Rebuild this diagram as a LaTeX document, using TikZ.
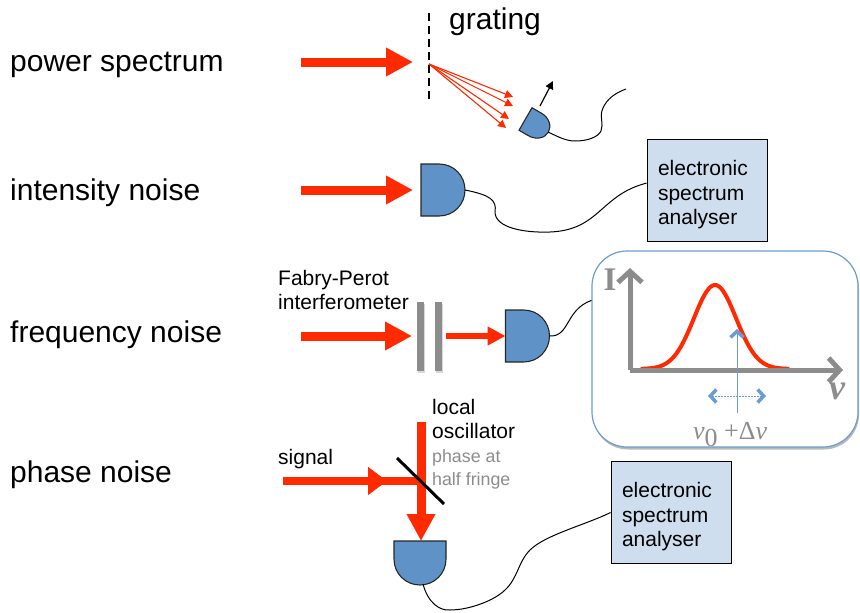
\documentclass[tikz,border=0pt]{standalone}
\usepackage{fontspec}
\setmainfont{Liberation Sans}
\newfontfamily\serifgreek{Liberation Serif}
\usetikzlibrary{arrows.meta,shadows}

\definecolor{beamred}{HTML}{FF2A00}
\definecolor{detblue}{HTML}{5F93C8}
\definecolor{boxblue}{HTML}{CFDEEE}
\definecolor{insetblue}{HTML}{6C9DD2}
\definecolor{axisgray}{HTML}{8C8C8C}

\tikzset{
  rowlabel/.style={anchor=base west, inner sep=0pt, font=\fontsize{30}{34}\selectfont},
  smalllabel/.style={anchor=north west, inner sep=0pt, align=left, font=\fontsize{21}{24.5}\selectfont},
  graylabel/.style={anchor=north west, inner sep=0pt, align=left, text=axisgray, font=\fontsize{17.8}{23}\selectfont},
  beam/.style={draw=beamred, line width=9pt},
  bighead/.style={-{Triangle[length=27pt,width=27pt]}},
  smallray/.style={draw=beamred, line width=1.1pt, -{Triangle[length=8pt,width=8pt]}},
  plate/.style={fill=axisgray, inner sep=0pt, minimum width=7pt, minimum height=69pt,
    drop shadow={shadow xshift=0.5pt, shadow yshift=-2pt, fill=gray!60}},
  specbox/.style={draw=black, line width=0.8pt, fill=boxblue, inner xsep=11pt, inner ysep=0pt, text width=98pt,
    minimum height=102pt, align=left, font=\fontsize{21}{24.5}\selectfont,
    execute at begin node=\rule{0pt}{24pt}},
  wire/.style={draw=black, line width=1pt},
  axisline/.style={draw=axisgray, line width=5pt, -{Straight Barb[length=11pt,width=24pt,line width=5pt]}},
  pics/detector/.style={code={
    \draw[fill=detblue, draw=black!85, line width=1.1pt] (0,-26) -- (18,-26)
      .. controls (33,-26) and (44,-14) .. (44,0)
      .. controls (44,14) and (33,26) .. (18,26) -- (0,26) -- cycle;
    \coordinate (-out) at (44,0);
  }}
}

\begin{document}
\begin{tikzpicture}[x=1pt,y=-1pt]
\useasboundingbox (0,0) rectangle (860,613);

% Row labels
\node[rowlabel] (powerlabel) at (10,71) {power spectrum};
\node[rowlabel] (intensitylabel) at (10,200) {intensity noise};
\node[rowlabel] (frequencylabel) at (10,342) {frequency noise};
\node[rowlabel] (phaselabel) at (10,482) {phase noise};

% Power spectrum
\node[rowlabel] (gratinglabel) at (449,30) {grating};
\coordinate (gratingtop) at (429,13);
\coordinate (gratingbottom) at (429,100);
\coordinate (gratinghit) at (429,64);
\coordinate (powerstart) at (301,62);
\coordinate (powertip) at (413,62);
\draw[line width=2.5pt, dash pattern=on 8pt off 5pt] (gratingtop) -- (gratingbottom);
\draw[beam, bighead] (powerstart) -- (powertip);
\coordinate (rayA) at (513,97);
\coordinate (rayB) at (513,106);
\coordinate (rayC) at (509,119);
\coordinate (rayD) at (506,128);
\foreach \ray in {rayA,rayB,rayC,rayD}
  \draw[smallray] (gratinghit) -- (\ray);
\pic[rotate=-30, xscale=0.6, yscale=0.5] (detA) at (525.5,119) {detector};
\coordinate (scanstart) at (540,106);
\coordinate (scanend) at (553,81);
\draw[line width=1.2pt, -{Triangle[length=8pt,width=8pt]}] (scanstart) -- (scanend);
\coordinate (wireAend) at (626,89);
\draw[wire] (detA-out) .. controls (557,136) and (565,141) .. (575,141)
  .. controls (588,141) and (598,137) .. (601,131)
  .. controls (604,124) and (599,116) .. (603,108)
  .. controls (607,99) and (615,93) .. (wireAend);

% Intensity noise
\coordinate (intensitystart) at (301,190);
\coordinate (intensitytip) at (413,190);
\draw[beam, bighead] (intensitystart) -- (intensitytip);
\pic (detB) at (421,190) {detector};
\node[specbox] (esaA) at (707,190.5) {electronic\\spectrum\\analyser};
\draw[wire] (detB-out) .. controls (490,195) and (497,200) .. (495,212)
  .. controls (495,228) and (525,233) .. (550,232)
  .. controls (600,230) and (600,195) .. (esaA.173);

% Frequency noise
\node[smalllabel] (fabrylabel) at (278,270) {Fabry-Perot\\interferometer};
\coordinate (frequencystart) at (301,336);
\coordinate (frequencytip) at (412,336);
\draw[beam, bighead] (frequencystart) -- (frequencytip);
\node[plate] (plateA) at (420.5,336.5) {};
\node[plate] (plateB) at (438.5,336.5) {};
\pic (detC) at (505.5,336) {detector};
\coordinate (transmitted) at (446,336);
\draw[draw=beamred, line width=6pt, -{Triangle[length=18pt,width=18pt]}] (transmitted) -- (505.5,336);

% Inset
\node[draw=insetblue, line width=1.2pt, fill=white, rounded corners=35pt, minimum width=266pt,
  minimum height=196pt, inner sep=0pt, drop shadow={shadow xshift=1pt, shadow yshift=-2.5pt, fill=black!55}] (inset) at (725,349) {};
\draw[wire] (detC-out) .. controls (570,337) and (565,310) .. (inset.160);
\coordinate (origin) at (630,370);
\coordinate (axisI) at (630,268);
\coordinate (axisV) at (843,370);
\draw[draw=beamred, line width=4pt, line cap=round] plot[domain=642:788, samples=80, smooth]
  ({\x},{369-84*exp(-((\x-715)^2)/882)});
\draw[axisline] (origin) -- (axisI);
\draw[axisline] (origin) -- (axisV);
\node[text=axisgray, inner sep=0pt, font=\serifgreek\bfseries\fontsize{33}{33}\selectfont] (ilabel) at (610,280) {I};
\node[text=axisgray, inner sep=0pt, font=\serifgreek\bfseries\itshape\fontsize{36}{36}\selectfont] (vlabel) at (837,391) {v};
\coordinate (probestart) at (737,413);
\coordinate (probetip) at (737,329);
\coordinate (sweepleft) at (708,396);
\coordinate (sweepright) at (766,396);
\draw[draw=insetblue, line width=1pt, -{Straight Barb[length=6pt,width=13pt,line width=3.5pt]}] (probestart) -- (probetip);
\draw[draw=insetblue, line width=0.8pt, dash pattern=on 2pt off 1pt,
  {Straight Barb[length=6pt,width=13pt,line width=3.5pt]}-{Straight Barb[length=6pt,width=13pt,line width=3.5pt]}] (sweepleft) -- (sweepright);
\node[text=axisgray, inner sep=0pt, anchor=base west, font=\serifgreek\fontsize{26}{26}\selectfont] (shiftlabel) at (693,439)
  {\itshape v\raisebox{-7pt}{\upshape 0} \upshape +Δ\itshape v};

% Phase noise
\node[smalllabel] (signallabel) at (278,449) {signal};
\node[smalllabel] (locallabel) at (432,399) {local\\oscillator};
\node[graylabel] (halflabel) at (432,449) {phase at\\half fringe};
\coordinate (lostart) at (421,422);
\coordinate (lotip) at (421,541);
\coordinate (signalstart) at (283,481);
\coordinate (signaltip) at (387,481);
\coordinate (signalbase) at (375,481);
\coordinate (mirrorhit) at (421,481);
\coordinate (mirrortop) at (397,458);
\coordinate (mirrorbottom) at (444,504);
\draw[beam, bighead] (lostart) -- (lotip);
\draw[beam, line width=8pt, -{Triangle[length=19pt,width=27pt]}] (signalstart) -- (signaltip);
\draw[beam, line width=8pt] (signalbase) -- (mirrorhit);
\draw[line width=3pt] (mirrortop) -- (mirrorbottom);
\pic[rotate=-90] (detD) at (420,541) {detector};
\node[specbox] (esaB) at (671,512.5) {electronic\\spectrum\\analyser};
\draw[wire] (detD-out) ++(3,-1) coordinate (wireDstart) .. controls (428,603) and (440,611) .. (450,610)
  .. controls (470,610) and (495,600) .. (505,590)
  .. controls (518,578) and (518,562) .. (530,550)
  .. controls (545,535) and (585,525) .. (esaB.west);

\end{tikzpicture}
\end{document}
